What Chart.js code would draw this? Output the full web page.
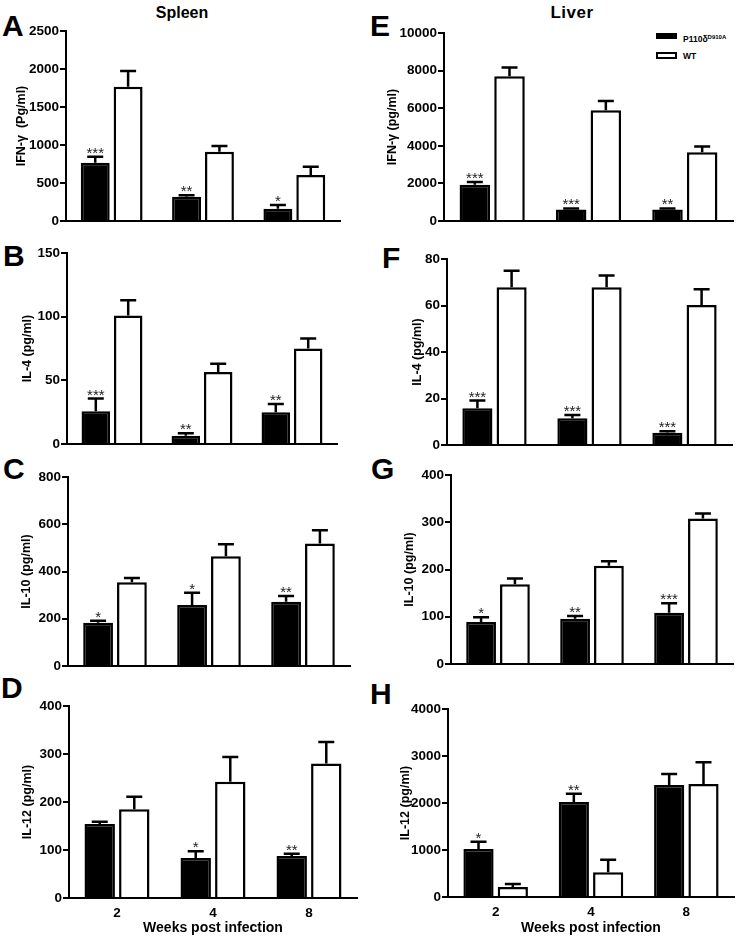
<!DOCTYPE html>
<html>
<head>
<meta charset="utf-8">
<script src="https://cdn.jsdelivr.net/npm/chart.js@4.4.0/dist/chart.umd.min.js"></script>
<style>
  html, body { margin: 0; padding: 0; background: #fff; }
  body { width: 745px; height: 941px; position: relative; overflow: hidden;
         font-family: 'Liberation Sans', Arial, sans-serif; color: #000; }
  canvas { position: absolute; }
  .letter { position: absolute; font-weight: bold; font-size: 30px; line-height: 30px; }
  .col { position: absolute; font-weight: bold; font-size: 16px; line-height: 16px;
         transform: translateX(-50%); white-space: nowrap; }
  .key { position: absolute; width: 21px; box-sizing: border-box; }
  .keytxt { position: absolute; font-weight: bold; font-size: 8.5px; line-height: 8px; white-space: nowrap; }
  .keytxt sup { font-size: 6px; vertical-align: 3px; }
</style>
</head>
<body>
<div class="col" style="left:182px; top:5px;">Spleen</div>
<div class="col" style="left:572px; top:5px; font-size:17px; letter-spacing:0.5px;">Liver</div>

<div class="letter" style="left:2px; top:11px;">A</div>
<div class="letter" style="left:3px; top:241px;">B</div>
<div class="letter" style="left:3px; top:454px;">C</div>
<div class="letter" style="left:1px; top:673px;">D</div>
<div class="letter" style="left:370px; top:11px;">E</div>
<div class="letter" style="left:382px; top:243px;">F</div>
<div class="letter" style="left:371px; top:454px;">G</div>
<div class="letter" style="left:370px; top:679px;">H</div>

<div class="key" style="left:656px; top:33px; height:6px; background:#000;"></div>
<div class="keytxt" style="left:683px; top:33px;">P110δ<sup>D910A</sup></div>
<div class="key" style="left:656px; top:52px; height:7px; border:2px solid #000; background:#fff;"></div>
<div class="keytxt" style="left:683px; top:52px;">WT</div>

<canvas id="cA"></canvas>
<canvas id="cB"></canvas>
<canvas id="cC"></canvas>
<canvas id="cD"></canvas>
<canvas id="cE"></canvas>
<canvas id="cF"></canvas>
<canvas id="cG"></canvas>
<canvas id="cH"></canvas>

<script>
const weeks = ['2', '4', '8'];

// spleen (mean, SEM); KO = P110δ D910A, WT = wild type
const spleenIfnKO = [765, 320, 160];
const spleenIfnKOSem = [80, 20, 50];
const spleenIfnWT = [1765, 910, 605];
const spleenIfnWTSem = [210, 77, 110];
const spleenIfnStars = ['***', '**', '*'];

const spleenIl4KO = [25.7, 6.5, 24.9];
const spleenIl4KOSem = [10, 1.9, 6.5];
const spleenIl4WT = [101, 56.5, 75];
const spleenIl4WTSem = [11.8, 6.5, 7.8];
const spleenIl4Stars = ['***', '**', '**'];

const spleenIl10KO = [183, 258, 272];
const spleenIl10KOSem = [9, 52, 24];
const spleenIl10WT = [355, 465, 518];
const spleenIl10WTSem = [17, 50, 57];
const spleenIl10Stars = ['*', '*', '**'];

const spleenIl12KO = [154, 83.5, 87.7];
const spleenIl12KOSem = [5, 14, 4.5];
const spleenIl12WT = [185, 242, 280];
const spleenIl12WTSem = [26, 52, 45];
const spleenIl12Stars = ['', '*', '**'];

// liver
const liverIfnKO = [1930, 615, 615];
const liverIfnKOSem = [145, 50, 50];
const liverIfnWT = [7700, 5890, 3660];
const liverIfnWTSem = [470, 490, 300];
const liverIfnStars = ['***', '***', '**'];

const liverIl4KO = [15.8, 11.5, 5.3];
const liverIl4KOSem = [3.3, 1.4, 0.6];
const liverIl4WT = [67.8, 67.9, 60.2];
const liverIl4WTSem = [7.2, 5, 6.8];
const liverIl4Stars = ['***', '***', '***'];

const liverIl10KO = [88.7, 95.8, 108.5];
const liverIl10KOSem = [10, 6, 20];
const liverIl10WT = [169, 207.7, 307.7];
const liverIl10WTSem = [12, 10, 11];
const liverIl10Stars = ['*', '**', '***'];

const liverIl12KO = [1021, 2021, 2383];
const liverIl12KOSem = [156, 178, 234];
const liverIl12WT = [213, 525, 2404];
const liverIl12WTSem = [64, 269, 461];
const liverIl12Stars = ['*', '**', ''];

Chart.defaults.font.family = "'Liberation Sans', Arial, sans-serif";
Chart.defaults.color = '#000';

// draws the upper error bar (T) and the significance stars over each bar
const errorBars = {
  id: 'errorBars',
  afterDatasetsDraw(chart) {
    let ctx = chart.ctx;
    let yScale = chart.scales.y;
    ctx.save();
    ctx.strokeStyle = '#000';
    ctx.lineWidth = 2.5;
    chart.data.datasets.forEach((ds, di) => {
      chart.getDatasetMeta(di).data.forEach((bar, i) => {
        let top = yScale.getPixelForValue(ds.data[i] + ds.sem[i]);
        ctx.beginPath();
        ctx.moveTo(bar.x, bar.y);
        ctx.lineTo(bar.x, top);
        ctx.moveTo(bar.x - 8, top);
        ctx.lineTo(bar.x + 8, top);
        ctx.stroke();
        if (ds.stars && ds.stars[i]) {
          ctx.fillStyle = '#222';
          ctx.font = "15px 'Liberation Sans', Arial, sans-serif";
          ctx.textAlign = 'center';
          ctx.textBaseline = 'alphabetic';
          ctx.fillText(ds.stars[i], bar.x, top + 1);
        }
      });
    });
    ctx.restore();
  }
};

function makePanel(id, ko, koSem, wt, wtSem, stars, max, step, yTitle, box) {
  // box: column left/width, chart area left/right/top/bottom, title centre x, bottom row?
  let canvas = document.getElementById(id);
  let top = box.top - 12;
  let bottomEdge = box.last ? 941 : box.bottom + 12;
  canvas.width = box.colW;
  canvas.height = bottomEdge - top;
  canvas.style.left = box.colL + 'px';
  canvas.style.top = top + 'px';

  new Chart(canvas.getContext('2d'), {
    type: 'bar',
    data: {
      labels: weeks,
      datasets: [{
        label: 'P110δ D910A',
        data: ko, sem: koSem, stars: stars,
        backgroundColor: '#000', borderColor: '#000', borderWidth: 2.5,
        categoryPercentage: 0.72, barPercentage: 0.88
      }, {
        label: 'WT',
        data: wt, sem: wtSem,
        backgroundColor: '#fff', borderColor: '#000', borderWidth: 2.5,
        categoryPercentage: 0.72, barPercentage: 0.88
      }]
    },
    options: {
      responsive: false,
      animation: false,
      devicePixelRatio: 1,
      layout: { padding: { top: 12, left: 0, bottom: 0, right: box.colL + box.colW - box.right } },
      plugins: { legend: { display: false }, tooltip: { enabled: false } },
      scales: {
        x: {
          grid: { display: false, drawTicks: false },
          border: { display: true, color: '#000', width: 2 },
          ticks: { display: box.last, color: '#000', padding: 7, font: { size: 13.5, weight: 'bold' } },
          title: {
            display: box.last, text: 'Weeks post infection', color: '#000',
            font: { size: 14, weight: 'bold' }, padding: { top: 0, bottom: 4.6 }
          },
          afterFit: (s) => { s.height = bottomEdge - box.bottom; }
        },
        y: {
          min: 0, max: max,
          ticks: {
            stepSize: step, color: '#000', padding: 1,
            font: { size: 13.5, weight: 'bold' },
            callback: (v) => v
          },
          grid: { drawOnChartArea: false, drawTicks: true, tickLength: 6, color: '#000', lineWidth: 2 },
          border: { color: '#000', width: 2 },
          title: {
            display: true, text: yTitle, color: '#000',
            font: { size: 12.5, weight: 'bold' },
            padding: { top: box.titleX - 7.5, bottom: 0 }
          },
          afterFit: (s) => { s.width = box.left - box.colL; }
        }
      }
    },
    plugins: [errorBars]
  });
}

makePanel('cA', spleenIfnKO, spleenIfnKOSem, spleenIfnWT, spleenIfnWTSem, spleenIfnStars, 2500, 500, 'IFN-γ  (Pg/ml)',
  { colL: 0, colW: 372, left: 66, right: 340, top: 31, bottom: 221, titleX: 22, last: false });
makePanel('cB', spleenIl4KO, spleenIl4KOSem, spleenIl4WT, spleenIl4WTSem, spleenIl4Stars, 150, 50, 'IL-4 (pg/ml)',
  { colL: 0, colW: 372, left: 67, right: 337, top: 253, bottom: 444, titleX: 28, last: false });
makePanel('cC', spleenIl10KO, spleenIl10KOSem, spleenIl10WT, spleenIl10WTSem, spleenIl10Stars, 800, 200, 'IL-10 (pg/ml)',
  { colL: 0, colW: 372, left: 68, right: 350, top: 477, bottom: 666, titleX: 27, last: false });
makePanel('cD', spleenIl12KO, spleenIl12KOSem, spleenIl12WT, spleenIl12WTSem, spleenIl12Stars, 400, 100, 'IL-12 (pg/ml)',
  { colL: 0, colW: 372, left: 69, right: 357, top: 706, bottom: 898, titleX: 28, last: true });

makePanel('cE', liverIfnKO, liverIfnKOSem, liverIfnWT, liverIfnWTSem, liverIfnStars, 10000, 2000, 'IFN-γ (pg/ml)',
  { colL: 372, colW: 373, left: 444, right: 733, top: 33, bottom: 221, titleX: 21, last: false });
makePanel('cF', liverIl4KO, liverIl4KOSem, liverIl4WT, liverIl4WTSem, liverIl4Stars, 80, 20, 'IL-4 (pg/ml)',
  { colL: 372, colW: 373, left: 447, right: 732, top: 259, bottom: 445, titleX: 46, last: false });
makePanel('cG', liverIl10KO, liverIl10KOSem, liverIl10WT, liverIl10WTSem, liverIl10Stars, 400, 100, 'IL-10 (pg/ml)',
  { colL: 372, colW: 373, left: 451, right: 733, top: 475, bottom: 664, titleX: 38, last: false });
makePanel('cH', liverIl12KO, liverIl12KOSem, liverIl12WT, liverIl12WTSem, liverIl12Stars, 4000, 1000, 'IL-12 (pg/ml)',
  { colL: 372, colW: 373, left: 448, right: 734, top: 709, bottom: 897, titleX: 34, last: true });
</script>
</body>
</html>
